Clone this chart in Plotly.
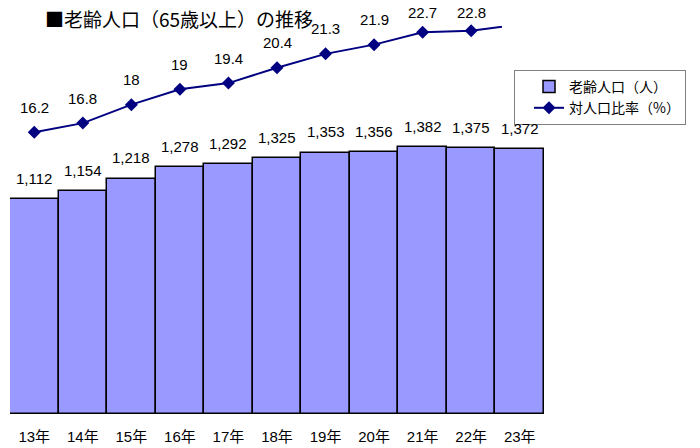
import plotly.graph_objects as go

years = ["13年", "14年", "15年", "16年", "17年", "18年", "19年", "20年", "21年", "22年", "23年"]
elderly = [1112, 1154, 1218, 1278, 1292, 1325, 1353, 1356, 1382, 1375, 1372]
ratio = [16.2, 16.8, 18.0, 19.0, 19.4, 20.4, 21.3, 21.9, 22.7, 22.8, 23.2]

title_text = "■老齢人口（65歳以上）の推移"
bar_name = "老齢人口（人）"
line_name = "対人口比率（%）"

FONT = "Liberation Sans, Noto Sans CJK JP, sans-serif"
JP = "Noto Sans CJK JP, sans-serif"

W, H = 700, 448
ML, MR, MT, MB = 10, 156, 20, 34
plot_w = W - ML - MR
plot_h = H - MT - MB
n = len(years)
px_per_cat = plot_w / n
line_end_px = 502
dom2 = (line_end_px - ML) / plot_w
x2_max = -0.5 + (line_end_px - ML) / px_per_cat
y2_range = [-2.1, 23.5]

fig = go.Figure()
fig.add_trace(go.Bar(
    x=years, y=elderly, name=bar_name,
    marker=dict(color="#9999FF", line=dict(color="black", width=1.5)),
    xaxis="x", yaxis="y", legendgroup="a",
))
fig.add_trace(go.Scatter(
    x=list(range(n)), y=ratio, name=line_name, mode="lines+markers",
    line=dict(color="#000080", width=2),
    marker=dict(symbol="diamond", size=10, color="#000080"),
    xaxis="x2", yaxis="y2", cliponaxis=True, legendgroup="b",
))

annotations = []
for yr, v in zip(years, elderly):
    annotations.append(dict(
        x=yr, y=v, xref="x", yref="y", text=f"{v:,}", showarrow=False,
        yanchor="middle", yshift=21, font=dict(family=FONT, size=15, color="black"),
    ))
for i, v in enumerate(ratio):
    if i > x2_max:
        continue
    # labels near the chart top are pushed down so they stay inside (as the original does)
    marker_px = MT + (y2_range[1] - v) / (y2_range[1] - y2_range[0]) * plot_h
    shift = min(25, marker_px - 13)
    annotations.append(dict(
        x=i, y=v, xref="x2", yref="y2", text=f"{v:g}", showarrow=False,
        yanchor="middle", yshift=shift, font=dict(family=FONT, size=15, color="black"),
    ))

fig.update_layout(
    width=W, height=H,
    margin=dict(l=ML, r=MR, t=MT, b=MB, autoexpand=False),
    paper_bgcolor="white", plot_bgcolor="rgba(0,0,0,0)",
    bargap=0,
    title=dict(text=title_text, x=45 / W, xanchor="left", xref="container",
               y=1 - 20 / H, yanchor="middle", yref="container",
               font=dict(family=JP, size=19, color="black")),
    xaxis=dict(domain=[0, 1], range=[-0.5, n - 0.5], showgrid=False, showline=False,
               ticks="outside", ticklen=9, tickcolor="rgba(0,0,0,0)", anchor="y",
               automargin=False,
               tickfont=dict(family=FONT, size=15, color="black")),
    yaxis=dict(range=[0, 2040], visible=False, showgrid=False, anchor="x", automargin=False),
    xaxis2=dict(domain=[0, dom2], range=[-0.5, x2_max], visible=False, anchor="y2", automargin=False),
    yaxis2=dict(range=y2_range, visible=False, anchor="x2", automargin=False),
    legend=dict(x=(514 - ML) / plot_w, y=(414 - 70) / plot_h, xanchor="left", yanchor="top",
                bordercolor="#808080", borderwidth=1, bgcolor="white",
                traceorder="grouped", tracegroupgap=0, indentation=14,
                font=dict(family=JP, size=14, color="black")),
    annotations=annotations,
    showlegend=True,
)

fig.write_html("out.html", config={"displayModeBar": False},
               post_script="document.body.style.margin='0';")
